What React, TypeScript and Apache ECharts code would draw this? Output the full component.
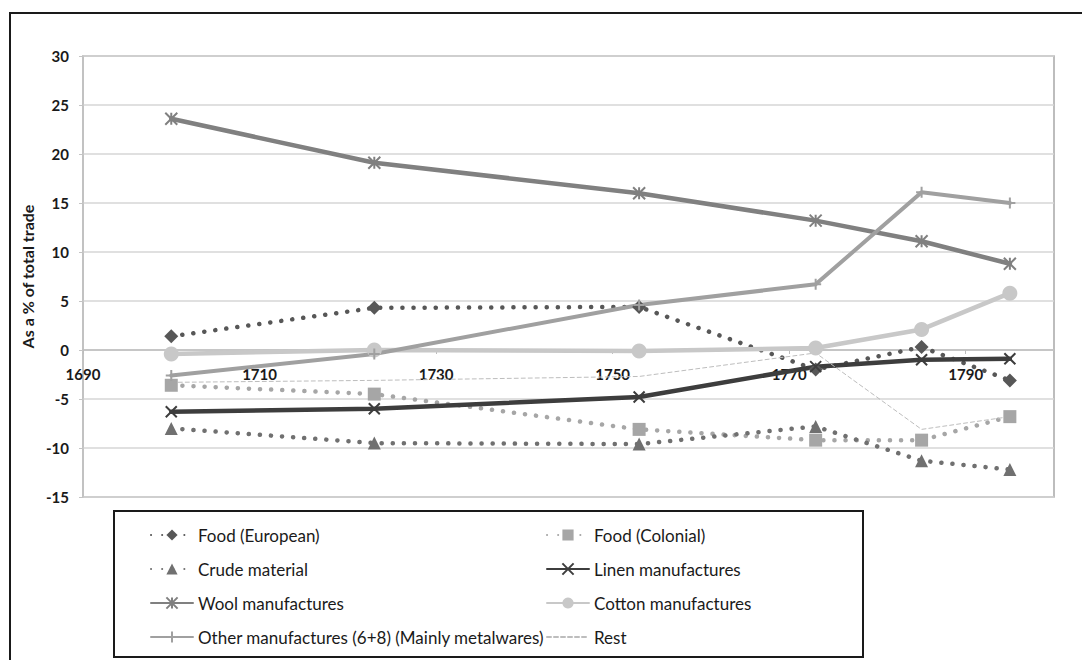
import React, { useEffect, useRef } from "react";
import * as echarts from "echarts";

// Year midpoints of the sampled periods
const years = [1700, 1723, 1753, 1773, 1785, 1795];

// Change in share of total trade, percentage points
const foodEuropean = [1.4, 4.3, 4.4, -2.0, 0.3, -3.1];
const foodColonial = [-3.6, -4.5, -8.1, -9.2, -9.2, -6.8];
const crudeMaterial = [-8.0, -9.5, -9.6, -7.8, -11.3, -12.2];
const linenManufactures = [-6.3, -6.0, -4.8, -1.7, -1.0, -0.9];
const woolManufactures = [23.6, 19.1, 16.0, 13.2, 11.1, 8.8];
const cottonManufactures = [-0.4, 0.0, -0.1, 0.2, 2.1, 5.8];
const otherManufactures = [-2.6, -0.4, 4.6, 6.7, 16.1, 15.0];
const rest = [-3.3, -3.1, -2.7, -0.3, -8.1, -6.8];

const seriesNames = [
  "Food (European)",
  "Food (Colonial)",
  "Crude material",
  "Linen manufactures",
  "Wool manufactures",
  "Cotton manufactures",
  "Other manufactures (6+8) (Mainly metalwares)",
  "Rest",
];

const yTicks = { min: -15, max: 30, step: 5 };
const xTicks = { min: 1690, max: 1800, step: 20 };

const FONT = "Lato, 'Open Sans', sans-serif";

const X_SYMBOL = "path://M0,0 L10,10 M10,0 L0,10";
const STAR_SYMBOL = "path://M0,0 L10,10 M10,0 L0,10 M5,0 L5,10";
const PLUS_SYMBOL = "path://M5,0 L5,10 M0,5 L10,5";

const toPoints = (vals: number[]) => years.map((y, i) => [y, vals[i]]);

const dotted = [0.1, 11];

// Plot box
const GRID = { left: 83, top: 56, right: 28, bottom: 163 };
const PLOT_HEIGHT = 660 - GRID.top - GRID.bottom;
// Lift the year axis from the bottom edge up to the zero line
const zeroOffset = -PLOT_HEIGHT * ((0 - yTicks.min) / (yTicks.max - yTicks.min));

export default function App() {
  const ref = useRef<HTMLDivElement>(null);

  useEffect(() => {
    if (!ref.current) return;
    const chart = echarts.init(ref.current, undefined, { renderer: "svg" });

    const lineSeries = (
      name: string,
      vals: number[],
      color: string,
      width: number,
      type: any,
      symbol: string,
      symbolSize: any,
      stroked: boolean
    ) => ({
      name,
      type: "line",
      data: toPoints(vals),
      symbol,
      symbolSize,
      showSymbol: symbol !== "none",
      lineStyle: { color, width, type, cap: "round" },
      itemStyle: stroked
        ? { color, borderColor: color, borderWidth: 2 }
        : { color, borderWidth: 0 },
      emphasis: { disabled: true },
    });

    const series = [
      lineSeries(seriesNames[0], foodEuropean, "#575757", 4.5, dotted, "diamond", 14, false),
      lineSeries(seriesNames[1], foodColonial, "#a6a6a6", 4.5, dotted, "rect", 13, false),
      lineSeries(seriesNames[2], crudeMaterial, "#707070", 4.5, dotted, "triangle", 13, false),
      lineSeries(seriesNames[3], linenManufactures, "#3d3d3d", 4.5, "solid", X_SYMBOL, 11, true),
      lineSeries(seriesNames[4], woolManufactures, "#808080", 4.5, "solid", STAR_SYMBOL, 12, true),
      lineSeries(seriesNames[5], cottonManufactures, "#c8c8c8", 4.5, "solid", "circle", 15, false),
      lineSeries(seriesNames[6], otherManufactures, "#a0a0a0", 4, "solid", PLUS_SYMBOL, 11, true),
      lineSeries(seriesNames[7], rest, "#bdbdbd", 1, [4, 3], "none", 4, false),
    ];

    const legendCommon = {
      orient: "vertical",
      top: 525,
      itemWidth: 42,
      itemHeight: 14,
      itemGap: 14,
      padding: 0,
      selectedMode: false,
      textStyle: { fontFamily: FONT, fontSize: 17, lineHeight: 20, color: "#1a1a1a" },
    };

    chart.setOption({
      animation: false,
      backgroundColor: "#ffffff",
      textStyle: { fontFamily: FONT },
      grid: {
        ...GRID,
        show: true,
        borderColor: "#a8a8a8",
        borderWidth: 1.5,
      },
      xAxis: {
        type: "value",
        position: "bottom",
        offset: zeroOffset,
        min: xTicks.min,
        max: xTicks.max,
        interval: xTicks.step,
        axisLine: { onZero: false, lineStyle: { color: "#bdbdbd", width: 1.5 } },
        axisTick: { show: true, length: 4, lineStyle: { color: "#bdbdbd" } },
        splitLine: { show: false },
        axisLabel: {
          margin: 16,
          showMaxLabel: false,
          formatter: (v: number) => String(v),
          color: "#1a1a1a",
          fontSize: 15,
          fontWeight: "bold",
          fontFamily: FONT,
        },
      },
      yAxis: {
        type: "value",
        min: yTicks.min,
        max: yTicks.max,
        interval: yTicks.step,
        name: "As a % of total trade",
        nameLocation: "middle",
        nameGap: 44,
        nameTextStyle: { fontFamily: FONT, fontSize: 16, fontWeight: "bold", color: "#1a1a1a" },
        axisLine: { show: true, onZero: false, lineStyle: { color: "#c4c4c4", width: 1.5 } },
        axisTick: { show: true, length: 4, lineStyle: { color: "#c4c4c4" } },
        splitLine: { show: true, lineStyle: { color: "#d6d6d6", width: 1.5 } },
        axisLabel: {
          margin: 14,
          formatter: (v: number) => String(v),
          color: "#1a1a1a",
          fontSize: 15,
          fontWeight: "bold",
          fontFamily: FONT,
        },
      },
      legend: [
        {
          ...legendCommon,
          left: 150,
          data: [seriesNames[0], seriesNames[2], seriesNames[4], seriesNames[6]],
        },
        {
          ...legendCommon,
          left: 546,
          data: [
            seriesNames[1],
            seriesNames[3],
            seriesNames[5],
            // Thin dashed line only, no marker
            { name: seriesNames[7], itemStyle: { color: "rgba(0,0,0,0)", borderWidth: 0 } },
          ],
        },
      ],
      graphic: [
        {
          type: "polyline",
          silent: true,
          shape: { points: [[10, 660], [10, 13], [1082, 13]] },
          style: { stroke: "#1a1a1a", lineWidth: 2, fill: "none" },
        },
        {
          type: "rect",
          silent: true,
          shape: { x: 114, y: 511, width: 749, height: 146 },
          style: { stroke: "#1a1a1a", lineWidth: 2, fill: "none" },
        },
      ],
      series,
    });

    return () => chart.dispose();
  }, []);

  return (
    <div
      ref={ref}
      style={{ position: "fixed", left: 0, top: 0, width: 1082, height: 660, background: "#fff" }}
    />
  );
}
